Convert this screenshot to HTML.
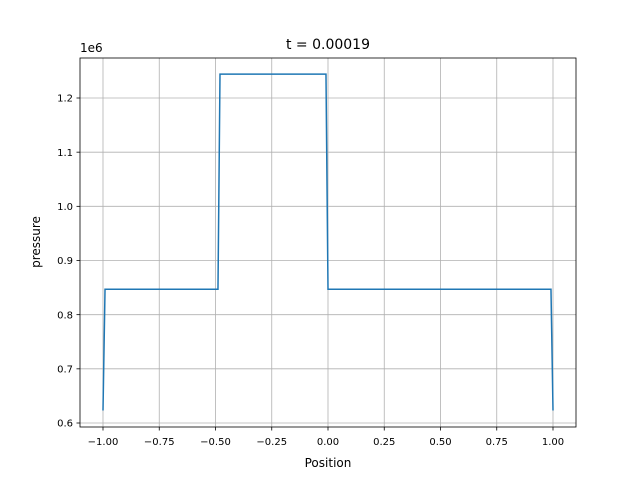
<!DOCTYPE html>
<html><head><meta charset="utf-8"><style>
body{margin:0;background:#fff}
svg{font-family:"DejaVu Sans","Liberation Sans",sans-serif}
</style></head><body>
<svg id="chart" width="640" height="480">
<rect width="640" height="480" fill="#fff"/>
<g id="grid"></g>
<g id="ticks"></g>
<polyline id="line" fill="none" stroke="#1f77b4" stroke-width="1.5"/>
<rect x="80" y="58" width="496" height="369" fill="none" stroke="#000" stroke-width="0.8"/>
<text x="328" y="49" font-size="14" text-anchor="middle">t = 0.00019</text>
<text x="328" y="467" font-size="12" text-anchor="middle">Position</text>
<text x="40" y="242" font-size="12" text-anchor="middle" transform="rotate(-90 40 242)">pressure</text>
<text x="80" y="52" font-size="12">1e6</text>
</svg>
<script>
const positions=[-1.0,-0.991,-0.489,-0.48,-0.009,0.0,0.991,1.0];
const pressures=[0.623,0.847,0.847,1.244,1.244,0.847,0.847,0.623];
const xTicks=[-1,-0.75,-0.5,-0.25,0,0.25,0.5,0.75,1];
const xTickLabels=["−1.00","−0.75","−0.50","−0.25","0.00","0.25","0.50","0.75","1.00"];
const yTicks=[0.6,0.7,0.8,0.9,1.0,1.1,1.2];
const yTickLabels=["0.6","0.7","0.8","0.9","1.0","1.1","1.2"];
const sx=v=>328+v*225;
const sy=v=>98+(1.2-v)*541.67;
const ns="http://www.w3.org/2000/svg";
const grid=document.getElementById('grid'),ticks=document.getElementById('ticks');
function mk(tag,attrs,parent){const e=document.createElementNS(ns,tag);for(const k in attrs)e.setAttribute(k,attrs[k]);parent.appendChild(e);return e;}
xTicks.forEach((v,i)=>{const x=sx(v);
const g=mk('line',{x1:x,x2:x,y1:58,y2:427,stroke:'#b0b0b0','stroke-width':0.8},grid);


const t=mk('line',{x1:x,x2:x,y1:427,y2:430.5,stroke:'#000','stroke-width':0.8},ticks);


const l=mk('text',{x:x,y:445,'font-size':10,'text-anchor':'middle'},ticks);l.textContent=xTickLabels[i];


});
yTicks.forEach((v,i)=>{const y=sy(v);
const g=mk('line',{x1:80,x2:576,y1:y,y2:y,stroke:'#b0b0b0','stroke-width':0.8},grid);


const t=mk('line',{x1:76.5,x2:80,y1:y,y2:y,stroke:'#000','stroke-width':0.8},ticks);


const l=mk('text',{x:73,y:y+3.6,'font-size':10,'text-anchor':'end'},ticks);l.textContent=yTickLabels[i];


});
document.getElementById('line').setAttribute('points',positions.map((p,i)=>sx(p)+','+sy(pressures[i])).join(' '));
</script>
</body></html>
